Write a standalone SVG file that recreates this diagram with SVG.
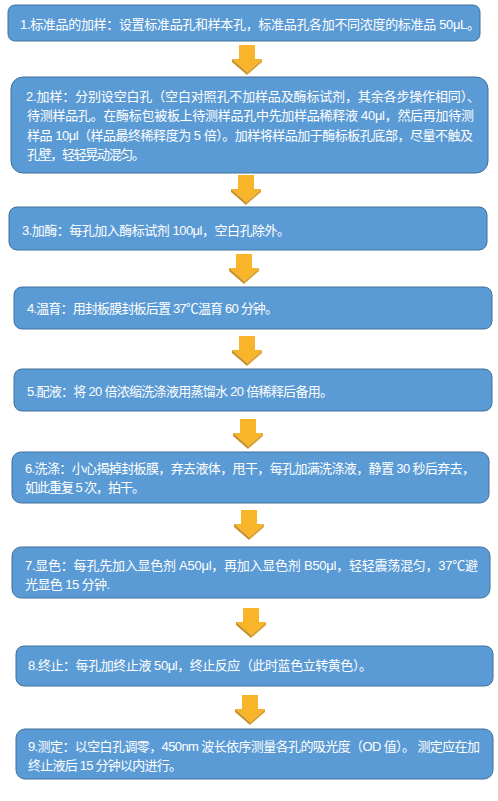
<svg xmlns="http://www.w3.org/2000/svg" width="498" height="801" viewBox="0 0 498 801">
<defs>
<style>
.box{fill:#5B9BD5;stroke:#41719C;stroke-width:1}
.t{fill:#ffffff;font-family:"Liberation Sans","Noto Sans CJK SC",sans-serif;font-size:13px}
.af{fill:#F9B52A}
.ab1{fill:#C8902A}
.ab2{fill:#DDA12C}
</style>
<g id="arrow">
<rect class="af" x="-8" y="0" width="16" height="14"/>
<polygon class="af" points="-15,14 15,14 0,27"/>
<polygon class="ab1" points="-15,14 0,27 0,30 -15,17"/>
<polygon class="ab2" points="15,14 15,17 0,30 0,27"/>
</g>
</defs>
<rect width="498" height="801" fill="#ffffff"/>
<g id="connectors">
<use href="#arrow" x="247" y="45"/>
<use href="#arrow" x="246" y="175"/>
<use href="#arrow" x="244" y="254"/>
<use href="#arrow" x="247" y="336"/>
<use href="#arrow" x="248" y="419"/>
<use href="#arrow" x="249" y="510"/>
<use href="#arrow" x="251" y="608"/>
<use href="#arrow" x="250" y="695"/>
</g>
<g id="step1">
<rect class="box" x="8" y="5" width="472" height="36" rx="7"/>
<text class="t" x="20" y="28.5" textLength="460" lengthAdjust="spacing">1.标准品的加样：设置标准品孔和样本孔，标准品孔各加不同浓度的标准品 50μL。</text>
</g>
<g id="step2">
<rect class="box" x="11" y="77" width="477" height="96" rx="12"/>
<text class="t" x="26" y="100.5" textLength="454" lengthAdjust="spacing">2.加样：分别设空白孔（空白对照孔不加样品及酶标试剂，其余各步操作相同）、</text>
<text class="t" x="27" y="120" textLength="447" lengthAdjust="spacing">待测样品孔。在酶标包被板上待测样品孔中先加样品稀释液 40μl，然后再加待测</text>
<text class="t" x="27" y="139.5" textLength="446" lengthAdjust="spacing">样品 10μl（样品最终稀释度为 5 倍）。加样将样品加于酶标板孔底部，尽量不触及</text>
<text class="t" x="27" y="158.5" textLength="118" lengthAdjust="spacing">孔壁，轻轻晃动混匀。</text>
</g>
<g id="step3">
<rect class="box" x="9" y="207" width="478" height="43" rx="8"/>
<text class="t" x="22" y="234.5" textLength="268" lengthAdjust="spacing">3.加酶：每孔加入酶标试剂 100μl，空白孔除外。</text>
</g>
<g id="step4">
<rect class="box" x="14" y="287" width="478" height="42" rx="8"/>
<text class="t" x="27" y="312.5" textLength="251" lengthAdjust="spacing">4.温育：用封板膜封板后置 37℃温育 60 分钟。</text>
</g>
<g id="step5">
<rect class="box" x="14" y="369" width="478" height="42" rx="8"/>
<text class="t" x="27" y="395.5" textLength="306" lengthAdjust="spacing">5.配液：将 20 倍浓缩洗涤液用蒸馏水 20 倍稀释后备用。</text>
</g>
<g id="step6">
<rect class="box" x="12" y="452" width="477" height="51" rx="9"/>
<text class="t" x="25" y="473" textLength="450" lengthAdjust="spacing">6.洗涤：小心揭掉封板膜，弃去液体，甩干，每孔加满洗涤液，静置 30 秒后弃去，</text>
<text class="t" x="25" y="491.5" textLength="120" lengthAdjust="spacing">如此重复 5 次，拍干。</text>
</g>
<g id="step7">
<rect class="box" x="12" y="547" width="478" height="51" rx="9"/>
<text class="t" x="25" y="569.5" textLength="453" lengthAdjust="spacing">7.显色：每孔先加入显色剂 A50μl，再加入显色剂 B50μl，轻轻震荡混匀，37℃避</text>
<text class="t" x="25" y="588.5" textLength="85" lengthAdjust="spacing">光显色 15 分钟.</text>
</g>
<g id="step8">
<rect class="box" x="16" y="646" width="477" height="40" rx="8"/>
<text class="t" x="28" y="670" textLength="344" lengthAdjust="spacing">8.终止：每孔加终止液 50μl，终止反应（此时蓝色立转黄色）。</text>
</g>
<g id="step9">
<rect class="box" x="16" y="729" width="477" height="50" rx="9"/>
<text class="t" x="28" y="750.5" textLength="452" lengthAdjust="spacing">9.测定：以空白孔调零，450nm 波长依序测量各孔的吸光度（OD 值）。 测定应在加</text>
<text class="t" x="28" y="769.5" textLength="154" lengthAdjust="spacing">终止液后 15 分钟以内进行。</text>
</g>
</svg>
